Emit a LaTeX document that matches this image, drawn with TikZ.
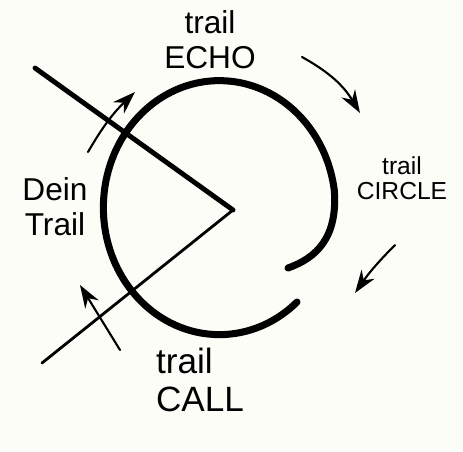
\documentclass[tikz,border=0pt]{standalone}
\usepackage{fontspec}
\setmainfont{Liberation Sans}
\usetikzlibrary{arrows.meta}
\definecolor{paper}{RGB}{253,253,248}
\begin{document}
\begin{tikzpicture}[x=0.02cm,y=-0.02cm,
    pen/.style={line width=#1,line cap=round,line join=round},
    pointer/.style={pen=1.2pt,-{Stealth[length=13pt,width=9pt]}},
    hand/.style={align=center,inner sep=0pt,font=\fontsize{#1}{#1}\selectfont}]

        \fill[paper] (0,0) rectangle (463,451);
        \useasboundingbox (0,0) rectangle (463,451);

        % the two lines meeting in the centre
        \coordinate (tip) at (233,210);
        \coordinate (upperend) at (35,68);
        \coordinate (lowerend) at (42,363);
        \draw[pen=2.8pt] (upperend) -- (tip);
        \draw[pen=1.6pt] (lowerend) -- (tip);

        % the open loop, curling in at its end
        \coordinate (loopstart) at (297,302);
        \coordinate (loopend) at (288,268);
        \draw[pen=4pt] (loopstart) arc[start angle=48,end angle=352,x radius=116,y radius=127]
            .. controls (338,238) and (316,258) .. (loopend);

        % arrows
        \coordinate (a1) at (88,152);  \coordinate (b1) at (135,92);
        \coordinate (a2) at (120,350); \coordinate (b2) at (80,285);
        \coordinate (a3) at (302,57);  \coordinate (b3) at (360,113);
        \coordinate (a4) at (395,245); \coordinate (b4) at (355,293);
        \draw[pointer] (a1) to[bend left=8] (b1);
        \draw[pointer] (a2) -- (b2);
        \draw[pointer] (a3) to[bend left=15] (b3);
        \draw[pointer] (a4) to[bend right=5] (b4);

        % labels
        \node[hand=18pt] (echo) at (210,40) {trail\\[2pt]ECHO};
        \node[hand=18pt] (dein) at (55,207) {Dein\\[2pt]Trail};
        \node[hand=14pt] (circle) at (402,178) {trail\\CIRCLE};
        \node[hand=20pt,align=left] (call) at (200,380) {trail\\[2pt]CALL};
    \end{tikzpicture}
\end{document}
